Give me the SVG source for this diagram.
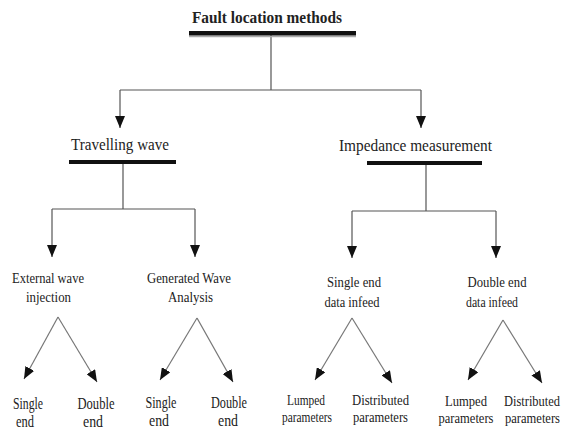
<svg xmlns="http://www.w3.org/2000/svg" width="568" height="432" viewBox="0 0 568 432">
<defs>
<marker id="ah" markerWidth="12" markerHeight="10" refX="12" refY="5" orient="auto" markerUnits="userSpaceOnUse">
<path d="M0,0 L12,5 L0,10 z" fill="#111"/>
</marker>
<style>
text{font-family:"Liberation Serif","Times New Roman",serif;fill:#222;text-anchor:middle}
.t0{font-size:17px;font-weight:bold}
.t1{font-size:17px}
.t2{font-size:15px}
.t3{font-size:17px}
.t4{font-size:14.5px}
.t5{font-size:14px}
.bar{fill:#111}
.sh{stroke:#aaa;stroke-width:1.5}
.c{fill:none;stroke:#555;stroke-width:1.2}
.ca{fill:none;stroke:#555;stroke-width:1.2;marker-end:url(#ah)}
.cg{fill:none;stroke:#777;stroke-width:1.2;marker-end:url(#ah)}
</style>
</defs>
<rect width="568" height="432" fill="#fff"/>
<g id="connectors">
<path class="c" d="M271,35 V90 M120,90 H421"/>
<path class="ca" d="M120,90 V128"/>
<path class="ca" d="M421,90 V128"/>
<path class="c" d="M123,164 V209 M52,209 H195"/>
<path class="ca" d="M52,209 V257"/>
<path class="ca" d="M195,209 V257"/>
<path class="c" d="M426,165 V211 M352,211 H496"/>
<path class="ca" d="M352,211 V258"/>
<path class="ca" d="M496,211 V258"/>
<path class="cg" d="M58,317 L24,379"/>
<path class="cg" d="M58,317 L97,382"/>
<path class="cg" d="M197,318 L160,380"/>
<path class="cg" d="M197,318 L233,382"/>
<path class="cg" d="M352,318 L315,380"/>
<path class="cg" d="M352,318 L392,383"/>
<path class="cg" d="M503,320 L468,380"/>
<path class="cg" d="M503,320 L542,383"/>
</g>
<g id="root">
<text class="t0" x="267" y="23" textLength="150" lengthAdjust="spacingAndGlyphs">Fault location methods</text>
<line class="sh" x1="189" y1="36.5" x2="356" y2="36.5"/>
<rect class="bar" x="189" y="31" width="167" height="4.5"/>
</g>
<g id="travelling">
<text class="t1" x="120" y="150" textLength="98" lengthAdjust="spacingAndGlyphs">Travelling wave</text>
<rect class="bar" x="69" y="160" width="107" height="4"/>
</g>
<g id="impedance">
<text class="t1" x="415.5" y="151" textLength="153" lengthAdjust="spacingAndGlyphs">Impedance measurement</text>
<rect class="bar" x="367" y="161" width="115" height="4"/>
</g>
<g id="external">
<text class="t2" x="48" y="283" textLength="72" lengthAdjust="spacingAndGlyphs">External wave</text>
<text class="t2" x="48.5" y="302" textLength="45" lengthAdjust="spacingAndGlyphs">injection</text>
</g>
<g id="generated">
<text class="t2" x="189" y="283" textLength="84" lengthAdjust="spacingAndGlyphs">Generated Wave</text>
<text class="t2" x="190.5" y="302" textLength="45" lengthAdjust="spacingAndGlyphs">Analysis</text>
</g>
<g id="single-infeed">
<text class="t2" x="354" y="287" textLength="54" lengthAdjust="spacingAndGlyphs">Single end</text>
<text class="t2" x="352" y="307" textLength="55" lengthAdjust="spacingAndGlyphs">data infeed</text>
</g>
<g id="double-infeed">
<text class="t2" x="497" y="287" textLength="59" lengthAdjust="spacingAndGlyphs">Double end</text>
<text class="t2" x="492" y="307" textLength="52" lengthAdjust="spacingAndGlyphs">data infeed</text>
</g>
<g id="ew-single">
<text class="t3" x="28" y="409" textLength="30" lengthAdjust="spacingAndGlyphs">Single</text>
<text class="t3" x="25" y="427" textLength="18" lengthAdjust="spacingAndGlyphs">end</text>
</g>
<g id="ew-double">
<text class="t3" x="96" y="409" textLength="37" lengthAdjust="spacingAndGlyphs">Double</text>
<text class="t3" x="93" y="427" textLength="20" lengthAdjust="spacingAndGlyphs">end</text>
</g>
<g id="gw-single">
<text class="t3" x="161" y="408" textLength="31" lengthAdjust="spacingAndGlyphs">Single</text>
<text class="t3" x="159" y="426" textLength="20" lengthAdjust="spacingAndGlyphs">end</text>
</g>
<g id="gw-double">
<text class="t3" x="229" y="408" textLength="36" lengthAdjust="spacingAndGlyphs">Double</text>
<text class="t3" x="228" y="426" textLength="20" lengthAdjust="spacingAndGlyphs">end</text>
</g>
<g id="si-lumped">
<text class="t4" x="306" y="405" textLength="38" lengthAdjust="spacingAndGlyphs">Lumped</text>
<text class="t4" x="307" y="422" textLength="50" lengthAdjust="spacingAndGlyphs">parameters</text>
</g>
<g id="si-distributed">
<text class="t4" x="380.5" y="405" textLength="57" lengthAdjust="spacingAndGlyphs">Distributed</text>
<text class="t4" x="380.5" y="422" textLength="55" lengthAdjust="spacingAndGlyphs">parameters</text>
</g>
<g id="di-lumped">
<text class="t4" x="466" y="406" textLength="42" lengthAdjust="spacingAndGlyphs">Lumped</text>
<text class="t4" x="466" y="423" textLength="55" lengthAdjust="spacingAndGlyphs">parameters</text>
</g>
<g id="di-distributed">
<text class="t5" x="532" y="406" textLength="56" lengthAdjust="spacingAndGlyphs">Distributed</text>
<text class="t5" x="532.5" y="423" textLength="55" lengthAdjust="spacingAndGlyphs">parameters</text>
</g>
</svg>
